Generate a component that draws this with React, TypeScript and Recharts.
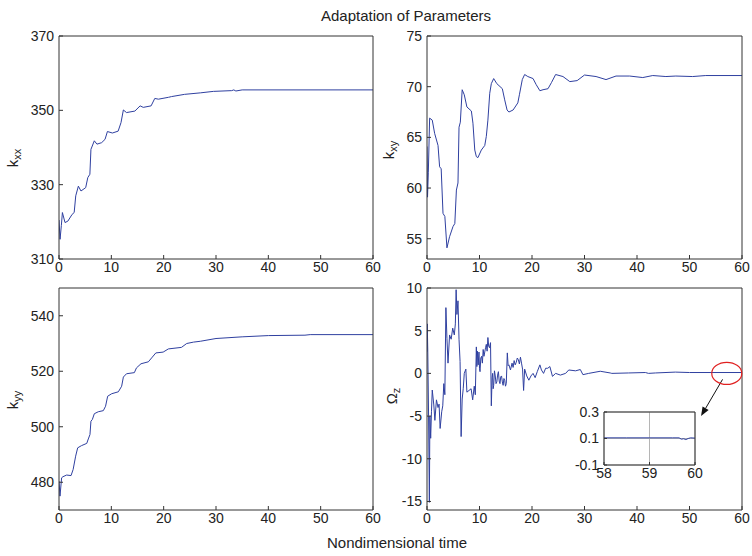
// Adaptation of parameters: four MATLAB-style subplots plus zoomed inset

import { LineChart, Line, XAxis, YAxis, CartesianGrid, ReferenceDot, ReferenceLine } from 'recharts';

const W = 752;
const H = 556;
const FONT = '"Liberation Sans", Arial, Helvetica, sans-serif';
const BLUE = '#2f40a0';
const AXIS = '#333333';
const TEXT = '#222222';

const X_TICKS = [0, 10, 20, 30, 40, 50, 60];

const KXX_T = [0, 0.2, 0.45, 0.65, 1.15, 1.7, 2.5, 2.9, 3.2, 3.7,
  4.2, 5.1, 5.5, 5.9, 6.1, 6.75, 7.25, 8.15, 8.8, 9.25,
  10.2, 11.3, 11.85, 12.3, 12.9, 14.5, 15.5, 16.1, 17.6, 18.3,
  19.0, 20.9, 21.5, 24.0, 27.0, 29.5, 33.0, 33.4, 33.8, 35.0,
  60];
const KXX_V = [320.5, 315.3, 319, 322.5, 319.8, 320.2, 322, 322.5, 327, 329.6,
  328.3, 329.2, 331.9, 332.8, 339.5, 341.8, 340.9, 341.3, 342.2, 344.3,
  343.9, 344.4, 346.7, 350.1, 349.4, 349.8, 351.2, 350.8, 351.2, 353.2,
  353.0, 353.5, 353.7, 354.3, 354.7, 355.1, 355.3, 355.5, 355.2, 355.5,
  355.5];
const KXX_TICKS = [310, 330, 350, 370];

const KXY_T = [0, 0.1, 0.25, 0.5, 1.0, 1.45, 2.1, 2.4, 2.7, 3.05,
  3.4, 3.8, 4.3, 4.95, 5.3, 5.6, 5.9, 6.1, 6.35, 6.7,
  7.1, 7.6, 8.45, 8.75, 9.1, 9.4, 9.7, 10.35, 11.0, 11.3,
  11.6, 11.95, 12.25, 12.7, 13.3, 14.35, 14.8, 15.25, 15.6, 16.4,
  17.3, 17.6, 18.15, 18.6, 19.2, 20.2, 20.8, 21.5, 22.1, 23.05,
  23.7, 24.5, 25.9, 27.2, 28.6, 30.0, 32.2, 34.1, 36.0, 38.6,
  41.1, 43.0, 45.5, 47.4, 50.6, 53.1, 60];
const KXY_V = [64.1, 59.1, 61.5, 66.9, 66.7, 65.4, 64.2, 62.1, 61.9, 57.5,
  57.2, 54.1, 55.2, 56.2, 56.5, 59.8, 60.5, 66.0, 66.5, 69.7,
  69.2, 68.0, 67.6, 66.4, 63.75, 63.1, 63.0, 63.75, 64.2, 65.1,
  66.7, 69.35, 70.3, 70.8, 70.3, 69.8, 68.7, 67.7, 67.5, 67.7,
  68.4, 69.2, 70.7, 71.2, 71.0, 70.8, 70.2, 69.6, 69.7, 69.8,
  70.4, 71.2, 71.0, 70.5, 70.6, 71.15, 71.0, 70.7, 71.05, 71.05,
  70.9, 71.1, 71.0, 71.05, 71.0, 71.1, 71.1];
const KXY_TICKS = [55, 60, 65, 70, 75];

const KYY_T = [0, 0.19, 0.5, 0.76, 1.46, 2.3, 2.7, 3.18, 3.57, 4.3,
  5.3, 5.6, 5.92, 6.1, 6.37, 6.75, 7.5, 8.47, 8.9, 9.3,
  10.07, 11.34, 11.97, 12.3, 12.9, 14.4, 14.8, 15.67, 17.07, 17.7,
  18.5, 19.9, 20.9, 23.4, 24.4, 25.7, 27, 30, 35, 40,
  47, 48, 60];
const KYY_V = [480.4, 475.0, 481.6, 482, 482.6, 482.4, 484.6, 489.4, 492.4, 493.2,
  494, 495.6, 497.2, 502, 502.6, 504.7, 505.4, 505.8, 507.4, 511,
  511.9, 512.6, 514.6, 517.9, 519.1, 519.5, 521.2, 522.7, 523.4, 524.8,
  526.6, 526.9, 528.05, 528.6, 530, 530.5, 530.8, 531.8, 532.4, 532.85,
  533.0, 533.2, 533.2];
const KYY_TICKS = [480, 500, 520, 540];

const OMZ_T = [0, 0.05, 0.15, 0.3, 0.45, 0.55, 0.7, 0.85, 1.0, 1.3,
  1.5, 1.8, 2.1, 2.3, 2.5, 2.8, 3.0, 3.2, 3.4, 3.6,
  3.8, 4.0, 4.3, 4.6, 4.9, 5.2, 5.4, 5.55, 5.7, 5.9,
  6.1, 6.3, 6.5, 6.7, 6.9, 7.1, 7.4, 7.6, 8.0, 8.4,
  8.7, 9.0, 9.2, 9.4, 9.5, 9.6, 9.75, 9.9, 10.0, 10.1,
  10.25, 10.4, 10.55, 10.7, 10.85, 11.0, 11.15, 11.3, 11.45, 11.6,
  11.75, 11.9, 12.1, 12.25, 12.4, 12.5, 12.6, 12.7, 12.85, 13.0,
  13.15, 13.3, 13.45, 13.6, 13.75, 13.9, 14.05, 14.2, 14.35, 14.5,
  14.65, 14.8, 14.95, 15.1, 15.3, 15.45, 15.6, 15.9, 16.2, 16.4,
  16.6, 16.8, 17.0, 17.2, 17.4, 17.6, 17.8, 18.0, 18.2, 18.4,
  18.6, 19.0, 19.4, 19.8, 20.2, 20.6, 21.0, 21.5, 21.8, 22.2,
  22.6, 23.0, 23.4, 23.9, 24.5, 25.4, 26.4, 27.0, 28.3, 29.2,
  29.7, 30.8, 33.0, 34.9, 35.2, 38.4, 41.6, 42.2, 43.5, 47.3,
  50, 60];
const OMZ_V = [2.5, 5.8, 2.6, -4.9, -15.1, -5.0, -7.6, -4.5, -1.95, -3.7,
  -5.5, -3.1, -4.0, -3.6, -6.45, -4.5, -3.8, -1.2, -2.5, 7.7,
  4.1, 1.2, 4.5, 4.0, 5.3, 4.5, 5.8, 9.8, 6.9, 8.5,
  4.0, 1.4, -7.4, -3.0, -1.8, 0.0, 0.5, -2.2, -2.0, -1.8,
  -3.1, -1.5, -2.5, 3.1, 0.8, 2.6, 1.0, 2.5, 0.6, 0.2,
  1.8, 2.0, 1.2, 2.8, 2.0, 2.5, 3.0, 3.4, 2.6, 4.2,
  3.2, 3.0, 3.6, -3.8, -0.5, 0.0, -1.8, -1.4, 0.3, -0.3,
  -1.2, -1.0, -0.2, 0.2, -0.9, -1.2, -0.4, -0.3, -1.0, -1.4,
  -0.6, -0.8, -1.5, -1.2, 2.4, 0.9, 1.0, 0.4, 1.2, 0.7,
  1.5, 1.0, 1.3, 1.8, 1.6, 1.1, 1.9, 1.2, 0.5, -2.0,
  0.5, -0.3, -0.8, -0.3, 0.0, -0.5, 0.2, 1.0, 0.4, 0.0,
  0.6, 0.6, 0.8, -0.35, 0.0, -0.2, 0.0, 0.4, 0.3, 0.45,
  -0.15, 0.0, 0.25, 0.05, 0.0, 0.05, 0.1, 0.0, 0.05, 0.15,
  0.1, 0.1];
const OMZ_TICKS = [-15, -10, -5, 0, 5, 10];

const INSET_T = [58, 58.5, 59, 59.5, 59.65, 59.7, 59.75, 59.8, 59.85, 59.9, 60];
const INSET_V = [0.105, 0.105, 0.105, 0.105, 0.105, 0.095, 0.098, 0.092, 0.1, 0.105, 0.103];
const INSET_X_TICKS = [58, 59, 60];
const INSET_Y_TICKS = [-0.1, 0.1, 0.3];

const zip = (ts: number[], vs: number[]) =>
  ts.slice(0, Math.min(ts.length, vs.length)).map((t, i) => ({ t, v: vs[i] }));

type Rect = { l: number; t: number; r: number; b: number };

const tickStyle = { fontSize: 14, fill: TEXT, fontFamily: FONT };

function Arrow(props: any) {
  const { x1, y1, x2, y2 } = props;
  const dx = x2 - x1;
  const dy = y2 - y1;
  const len = Math.sqrt(dx * dx + dy * dy) || 1;
  const ux = dx / len;
  const uy = dy / len;
  const bx = x2 - ux * 9;
  const by = y2 - uy * 9;
  const pts = `${x2},${y2} ${bx - uy * 3.5},${by + ux * 3.5} ${bx + uy * 3.5},${by - ux * 3.5}`;
  return (
    <g>
      <line x1={x1} y1={y1} x2={bx} y2={by} stroke="#111" strokeWidth={1} />
      <polygon points={pts} fill="#111" />
    </g>
  );
}

function Panel({ rect, data, yDomain, yTicks, xDomain = [0, 60], xTicks = X_TICKS, grid = false, children }: {
  rect: Rect; data: { t: number; v: number }[]; yDomain: number[]; yTicks: number[];
  xDomain?: number[]; xTicks?: number[]; grid?: boolean; children?: any;
}) {
  const { l, t, r, b } = rect;
  const tickLen = grid ? -3 : -4;
  // top / right axes are 1px thick so recharts still draws them (box frame)
  return (
    <div style={{ position: 'absolute', left: 0, top: 0 }}>
      <LineChart width={W} height={H} data={data}
        margin={{ top: t - 1, right: W - r - 1, bottom: H - b - 25, left: l - 50 }}>
        {grid && <CartesianGrid xAxisId="b" yAxisId="l" stroke="#b5b5b5" strokeWidth={1} />}
        <XAxis xAxisId="b" dataKey="t" type="number" domain={xDomain} ticks={xTicks} interval={0}
          allowDataOverflow height={25} tickSize={tickLen} tickMargin={7 - tickLen - 4}
          stroke={AXIS} tick={tickStyle} />
        <XAxis xAxisId="t" dataKey="t" type="number" domain={xDomain} ticks={xTicks} interval={0}
          allowDataOverflow orientation="top" height={1} tickSize={tickLen} tick={false} stroke={AXIS} />
        <YAxis yAxisId="l" dataKey="v" type="number" domain={yDomain} ticks={yTicks} interval={0}
          allowDataOverflow width={50} tickSize={tickLen} tickMargin={5 - tickLen}
          stroke={AXIS} tick={tickStyle} />
        <YAxis yAxisId="r" dataKey="v" type="number" domain={yDomain} ticks={yTicks} interval={0}
          allowDataOverflow orientation="right" width={1} tickSize={tickLen} tick={false} stroke={AXIS} />
        <Line xAxisId="b" yAxisId="l" dataKey="v" type="linear" stroke={BLUE} strokeWidth={1}
          dot={false} activeDot={false} isAnimationActive={false} />
        {children}
      </LineChart>
    </div>
  );
}

function YLab({ x, y, main, sub }: { x: number; y: number; main: string; sub: string }) {
  return (
    <text transform={`translate(${x},${y}) rotate(-90)`} textAnchor="middle" fontSize={15} fill={TEXT}>
      {main}
      <tspan fontSize={11} dy={3}>{sub}</tspan>
    </text>
  );
}

export default function App() {
  return (
    <div style={{ position: 'absolute', left: 0, top: 0, width: W, height: H, background: '#fff', fontFamily: FONT }}>
      <svg width={W} height={H} style={{ position: 'absolute', left: 0, top: 0 }} fontFamily={FONT}>
        <text x={406} y={21} textAnchor="middle" fontSize={15} fill={TEXT}>Adaptation of Parameters</text>
        <text x={397} y={548} textAnchor="middle" fontSize={15} fill={TEXT}>Nondimensional time</text>
        <YLab x={18} y={158} main="k" sub="xx" />
        <YLab x={394} y={150} main="k" sub="xy" />
        <YLab x={18} y={400} main="k" sub="yy" />
        <YLab x={397} y={396} main="Ω" sub="z" />
      </svg>
      <Panel rect={{ l: 59, t: 36, r: 373, b: 259 }} data={zip(KXX_T, KXX_V)} yDomain={[310, 370]} yTicks={KXX_TICKS} />
      <Panel rect={{ l: 427, t: 36, r: 742, b: 259 }} data={zip(KXY_T, KXY_V)} yDomain={[53, 75]} yTicks={KXY_TICKS} />
      <Panel rect={{ l: 59, t: 288, r: 373, b: 510 }} data={zip(KYY_T, KYY_V)} yDomain={[470, 550]} yTicks={KYY_TICKS} />
      <Panel rect={{ l: 427, t: 288, r: 742, b: 510 }} data={zip(OMZ_T, OMZ_V)} yDomain={[-16, 10]} yTicks={OMZ_TICKS}>
        <ReferenceDot xAxisId="b" yAxisId="l" x={57.1} y={0} ifOverflow="visible"
          shape={(p: any) => <ellipse cx={p.cx} cy={p.cy} rx={15} ry={11} fill="none" stroke="#e02020" strokeWidth={1.2} />} />
        <ReferenceLine xAxisId="b" yAxisId="l" ifOverflow="visible"
          segment={[{ x: 56.3, y: -0.7 }, { x: 52.2, y: -5.0 }]} shape={Arrow} />
      </Panel>
      <Panel rect={{ l: 604, t: 412, r: 695, b: 465 }} data={zip(INSET_T, INSET_V)} yDomain={[-0.1, 0.3]}
        yTicks={INSET_Y_TICKS} xDomain={[58, 60]} xTicks={INSET_X_TICKS} grid />
    </div>
  );
}
